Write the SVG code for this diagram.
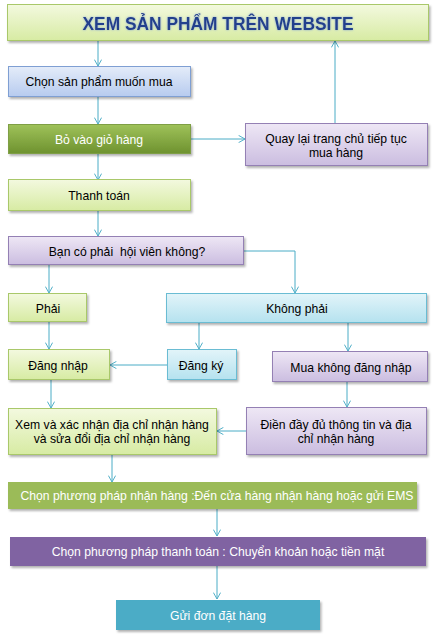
<svg xmlns="http://www.w3.org/2000/svg" width="435" height="640" viewBox="0 0 435 640">
<defs>
<linearGradient id="gLime" x1="0" y1="0" x2="0" y2="1"><stop offset="0" stop-color="#f3f9df"/><stop offset="1" stop-color="#d7eba3"/></linearGradient>
<linearGradient id="gBlue" x1="0" y1="0" x2="0" y2="1"><stop offset="0" stop-color="#e4ecf9"/><stop offset="1" stop-color="#b7cbef"/></linearGradient>
<linearGradient id="gGreen" x1="0" y1="0" x2="0" y2="1"><stop offset="0" stop-color="#9fc25a"/><stop offset="1" stop-color="#6e922f"/></linearGradient>
<linearGradient id="gLav" x1="0" y1="0" x2="0" y2="1"><stop offset="0" stop-color="#eee7f5"/><stop offset="1" stop-color="#cbbde0"/></linearGradient>
<linearGradient id="gCyan" x1="0" y1="0" x2="0" y2="1"><stop offset="0" stop-color="#e2f4f9"/><stop offset="1" stop-color="#b5e2ef"/></linearGradient>
<filter id="sh" x="-10%" y="-20%" width="120%" height="150%"><feDropShadow dx="1.5" dy="2" stdDeviation="1.2" flood-color="#000" flood-opacity="0.3"/></filter>
<filter id="glow" x="-10%" y="-30%" width="120%" height="160%"><feGaussianBlur in="SourceAlpha" stdDeviation="1.2" result="b"/><feFlood flood-color="#7f9fd6" flood-opacity="0.9"/><feComposite in2="b" operator="in" result="c"/><feMerge><feMergeNode in="c"/><feMergeNode in="SourceGraphic"/></feMerge></filter>
<marker id="arr" viewBox="0 0 10 10" refX="9" refY="5" markerWidth="8" markerHeight="8" markerUnits="userSpaceOnUse" orient="auto"><path d="M1,0.5 L9,5 L1,9.5" fill="none" stroke="#4bacc6" stroke-width="1.2"/></marker>
<style>
.box{filter:url(#sh);}
.lime{fill:url(#gLime);stroke:#a9c86b;stroke-width:1;}
.blue{fill:url(#gBlue);stroke:#7f9fd3;stroke-width:1;}
.green{fill:url(#gGreen);stroke:#7f9f45;stroke-width:1;}
.lav{fill:url(#gLav);stroke:#9480b4;stroke-width:1;}
.cyan{fill:url(#gCyan);stroke:#6bbcd3;stroke-width:1;}
.olive{fill:#9bbb59;}
.purple{fill:#8064a2;}
.teal{fill:#4bacc6;}
text{font-family:"Liberation Sans",Arial,sans-serif;font-size:12.2px;fill:#000;text-anchor:middle;}
.w{fill:#ffffff;}
.title{font-weight:bold;font-size:19px;fill:#233f8c;filter:url(#glow);}
.conn{fill:none;stroke:#4bacc6;stroke-width:1;marker-end:url(#arr);}
</style>
</defs>
<rect width="435" height="640" fill="#ffffff"/>

<g id="connectors">
<path class="conn" d="M98,41 V66"/>
<path class="conn" d="M98,97 V124"/>
<path class="conn" d="M191,139 H245"/>
<path class="conn" d="M335,123 V41"/>
<path class="conn" d="M98,154 V180"/>
<path class="conn" d="M98,211 V236"/>
<path class="conn" d="M49,265 V293"/>
<path class="conn" d="M244,251 H295 V293"/>
<path class="conn" d="M49,322 V349"/>
<path class="conn" d="M199,323 V349"/>
<path class="conn" d="M348,323 V351"/>
<path class="conn" d="M167,365 H110"/>
<path class="conn" d="M51,380 V408"/>
<path class="conn" d="M347,382 V407"/>
<path class="conn" d="M246,431 H217"/>
<path class="conn" d="M112,455 V482"/>
<path class="conn" d="M217,509 V536"/>
<path class="conn" d="M217,566 V599"/>
</g>

<g id="n-title"><rect class="box lime" x="7.5" y="4.5" width="421" height="36"/><text class="title" x="218" y="30" textLength="271" lengthAdjust="spacingAndGlyphs">XEM SẢN PHẨM TRÊN WEBSITE</text></g>
<g id="n-chon"><rect class="box blue" x="8.5" y="66.5" width="182" height="30"/><text x="99" y="86">Chọn sản phẩm muốn mua</text></g>
<g id="n-bo"><rect class="box green" x="8.5" y="124.5" width="182" height="29"/><text class="w" x="99" y="143.5">Bỏ vào giỏ hàng</text></g>
<g id="n-quay"><rect class="box lav" x="245.5" y="123.5" width="182" height="42"/><text x="336" y="142.5">Quay lại trang chủ tiếp tục</text><text x="336" y="156.5">mua hàng</text></g>
<g id="n-thanhtoan"><rect class="box lime" x="8.5" y="179.5" width="182" height="31"/><text x="99" y="199.5">Thanh toán</text></g>
<g id="n-hoivien"><rect class="box lav" x="8.5" y="236.5" width="235" height="28"/><text x="127" y="256" xml:space="preserve">Bạn có phải  hội viên không?</text></g>
<g id="n-phai"><rect class="box lime" x="8.5" y="293.5" width="78" height="28"/><text x="48" y="312.5">Phải</text></g>
<g id="n-khongphai"><rect class="box cyan" x="166.5" y="293.5" width="260" height="29"/><text x="297" y="312.5">Không phải</text></g>
<g id="n-dangnhap"><rect class="box lime" x="8.5" y="349.5" width="101" height="30"/><text x="58" y="370">Đăng nhập</text></g>
<g id="n-dangky"><rect class="box cyan" x="167.5" y="349.5" width="69" height="30"/><text x="201" y="370">Đăng ký</text></g>
<g id="n-mua"><rect class="box lav" x="272.5" y="351.5" width="155" height="30"/><text x="351" y="371.5">Mua không đăng nhập</text></g>
<g id="n-xem"><rect class="box lime" x="8.5" y="408.5" width="208" height="46"/><text x="112" y="428.5">Xem và xác nhận địa chỉ nhận hàng</text><text x="112" y="442.5">và sửa đổi địa chỉ nhận hàng</text></g>
<g id="n-dien"><rect class="box lav" x="246.5" y="407.5" width="180" height="47"/><text x="336" y="428.5">Điền đầy đủ thông tin và địa</text><text x="336" y="442.5">chỉ nhận hàng</text></g>
<g id="n-nhanhang"><rect class="box olive" x="8" y="482" width="409" height="27"/><text class="w" x="217" y="499.5">Chọn phương pháp nhận hàng :Đến cửa hàng nhận hàng hoặc gửi EMS</text></g>
<g id="n-thanhtoan2"><rect class="box purple" x="10" y="537" width="416" height="29"/><text class="w" x="218" y="556">Chọn phương pháp thanh toán : Chuyển khoản hoặc tiền mặt</text></g>
<g id="n-gui"><rect class="box teal" x="116" y="600" width="204" height="30"/><text class="w" x="218" y="619.5">Gửi đơn đặt hàng</text></g>
</svg>
